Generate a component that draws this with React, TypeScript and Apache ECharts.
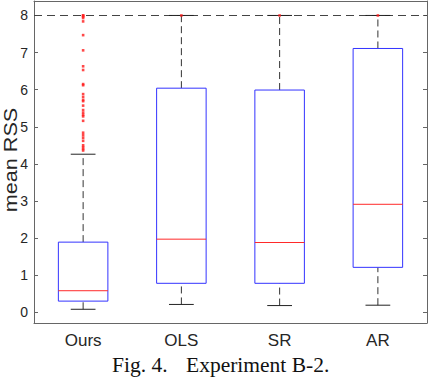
import React, { useEffect, useRef } from "react";
import * as echarts from "echarts";

const categories = ["Ours", "OLS", "SR", "AR"];
// [low whisker, Q1, median, Q3, high whisker]
const boxStats = [
  [0.08, 0.3, 0.58, 1.89, 4.26],
  [0.21, 0.78, 1.97, 6.04, 8.0],
  [0.18, 0.78, 1.88, 5.99, 8.0],
  [0.19, 1.21, 2.91, 7.11, 8.0],
];
const oursOutliers = [
  8.0, 8.0, 7.97, 7.93, 7.84, 7.47, 7.06, 6.63, 6.53, 6.15, 6.12, 5.88, 5.8,
  5.72, 5.69, 5.57, 5.45, 5.38, 5.32, 5.28, 5.16, 4.84, 4.77, 4.7, 4.62, 4.5,
  4.45, 4.4, 4.36,
];
const otherOutliers = [
  [1, 8.0],
  [2, 8.0],
  [3, 8.0],
];
const yTicks = [0, 1, 2, 3, 4, 5, 6, 7, 8];
const capValue = 8;

export default function App() {
  const ref = useRef<HTMLDivElement>(null);
  useEffect(() => {
    document.body.style.margin = "0";
    const chart = echarts.init(ref.current!, null, { renderer: "svg" });
    const boxData = boxStats.map((s, i) => [i, ...s]);
    const outlierData = [
      ...oursOutliers.map((v) => [0, v]),
      ...otherOutliers,
    ];
    const axisColor = "#666";
    const labelColor = "#262626";
    chart.setOption({
      animation: false,
      grid: { left: 34, right: 3, top: 1, bottom: 59 },
      xAxis: [
        {
          type: "category",
          data: categories,
          boundaryGap: true,
          axisLine: { onZero: false, lineStyle: { color: axisColor, width: 1 } },
          axisTick: { inside: true, length: 4, alignWithLabel: true, lineStyle: { color: axisColor } },
          axisLabel: {
            color: labelColor,
            fontFamily: "Liberation Sans, Arial, sans-serif",
            fontSize: 17,
            margin: 9,
          },
          splitLine: { show: false },
        },
        {
          type: "category",
          data: categories,
          position: "top",
          boundaryGap: true,
          axisLine: { onZero: false, lineStyle: { color: axisColor, width: 1 } },
          axisTick: { inside: true, length: 4, alignWithLabel: true, lineStyle: { color: axisColor } },
          axisLabel: { show: false },
          splitLine: { show: false },
        },
      ],
      yAxis: [
        {
          type: "value",
          min: -0.29,
          max: 8.39,
          axisLine: { show: true, onZero: false, lineStyle: { color: axisColor, width: 1 } },
          axisTick: { show: true, inside: true, length: 4, customValues: yTicks, lineStyle: { color: axisColor } },
          axisLabel: {
            customValues: yTicks,
            color: labelColor,
            fontFamily: "Liberation Sans, Arial, sans-serif",
            fontSize: 14,
            margin: 6,
          },
          splitLine: { show: false },
        },
        {
          type: "value",
          position: "right",
          min: -0.29,
          max: 8.39,
          axisLine: { show: true, onZero: false, lineStyle: { color: axisColor, width: 1 } },
          axisTick: { show: true, inside: true, length: 4, customValues: yTicks, lineStyle: { color: axisColor } },
          axisLabel: { show: false },
          splitLine: { show: false },
        },
      ],
      graphic: [
        {
          type: "text",
          x: 11,
          y: 160,
          rotation: Math.PI / 2,
          scaleX: 1.2,
          style: {
            text: "mean RSS",
            fill: labelColor,
            font: "18px 'Liberation Sans', Arial, sans-serif",
            textAlign: "center",
            textVerticalAlign: "middle",
          },
        },
        {
          type: "text",
          x: 112,
          y: 376,
          style: {
            text: "Fig. 4.",
            fill: "#111",
            font: "21.5px 'Liberation Serif', 'Times New Roman', serif",
            textAlign: "left",
            textVerticalAlign: "bottom",
          },
        },
        {
          type: "text",
          x: 186,
          y: 376,
          style: {
            text: "Experiment B-2.",
            fill: "#111",
            font: "21.5px 'Liberation Serif', 'Times New Roman', serif",
            textAlign: "left",
            textVerticalAlign: "bottom",
          },
        },
      ],
      series: [
        {
          type: "custom",
          xAxisIndex: 0,
          yAxisIndex: 0,
          data: boxData,
          renderItem: (params: any, api: any) => {
            const idx = api.value(0);
            const low = api.value(1);
            const q1 = api.value(2);
            const med = api.value(3);
            const q3 = api.value(4);
            const high = api.value(5);
            const band = api.size([1, 0])[0];
            const hw = band * 0.252;
            const cw = hw * 0.5;
            const pLow = api.coord([idx, low]);
            const pQ1 = api.coord([idx, q1]);
            const pMed = api.coord([idx, med]);
            const pQ3 = api.coord([idx, q3]);
            const pHigh = api.coord([idx, high]);
            const cx = pLow[0];
            const whiskerStyle = { stroke: "#333", lineWidth: 1, lineDash: [7, 4] };
            const capStyle = { stroke: "#222", lineWidth: 1 };
            return {
              type: "group",
              children: [
                { type: "line", shape: { x1: cx, y1: pQ3[1], x2: cx, y2: pHigh[1] }, style: whiskerStyle },
                { type: "line", shape: { x1: cx, y1: pLow[1], x2: cx, y2: pQ1[1] }, style: whiskerStyle },
                { type: "line", shape: { x1: cx - cw, y1: pHigh[1], x2: cx + cw, y2: pHigh[1] }, style: capStyle },
                { type: "line", shape: { x1: cx - cw, y1: pLow[1], x2: cx + cw, y2: pLow[1] }, style: capStyle },
                {
                  type: "rect",
                  shape: { x: cx - hw, y: pQ3[1], width: hw * 2, height: pQ1[1] - pQ3[1] },
                  style: { fill: "#fff", stroke: "#3333ff", lineWidth: 1 },
                },
                {
                  type: "line",
                  shape: { x1: cx - hw, y1: pMed[1], x2: cx + hw, y2: pMed[1] },
                  style: { stroke: "#ff2a2a", lineWidth: 1 },
                },
              ],
            };
          },
        },
        {
          type: "scatter",
          xAxisIndex: 0,
          yAxisIndex: 0,
          data: outlierData,
          symbol: "rect",
          symbolSize: 2.6,
          itemStyle: { color: "#ff1a1a" },
          z: 5,
          markLine: {
            silent: true,
            symbol: "none",
            label: { show: false },
            lineStyle: { color: "#444", type: [8, 5], width: 1 },
            data: [{ yAxis: capValue }],
            z: 1,
          },
        },
      ],
    });
    return () => chart.dispose();
  }, []);
  return <div ref={ref} style={{ width: 430, height: 382 }} />;
}
